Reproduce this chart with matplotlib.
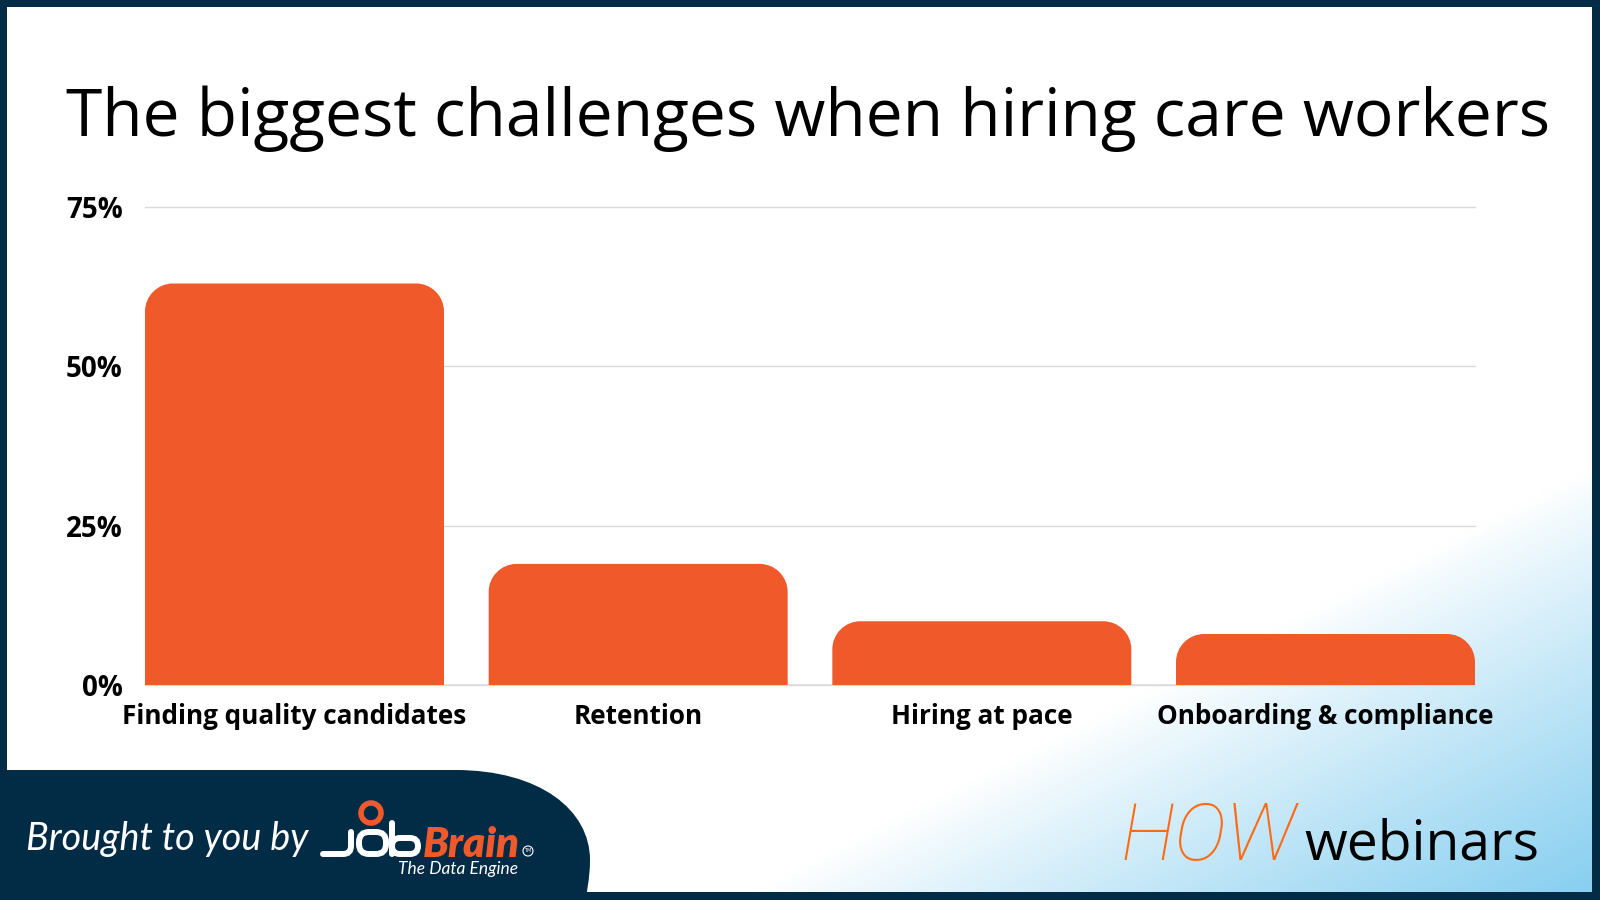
import numpy as np
import matplotlib
matplotlib.use('Agg')
import matplotlib.pyplot as plt
from matplotlib.path import Path
from matplotlib.patches import PathPatch, Rectangle, Circle, FancyBboxPatch

# chart data
categories = ['Finding quality candidates', 'Retention', 'Hiring at pace', 'Onboarding & compliance']
values = [63, 19, 10, 8]
y_ticks = [0, 25, 50, 75]
title = 'The biggest challenges when hiring care workers'

NAVY = '#022B46'
ORANGE = '#F05A2B'
W, H = 1600, 900

fig = plt.figure(figsize=(16, 9), dpi=100)
renderer = fig.canvas.get_renderer()


def fit(txt, width):
    # scale a text so it spans the wanted pixel width
    bb = txt.get_window_extent(renderer)
    txt.set_fontsize(txt.get_fontsize() * width / bb.width)


# background layer in pixel coords
bg = fig.add_axes([0, 0, 1, 1], zorder=0)
bg.add_patch(Rectangle((0, 0), W, H, color=NAVY, zorder=0))

# light blue wash in the bottom right corner
gx, gy = np.meshgrid(np.linspace(7, 1592, 400), np.linspace(7, 892, 225))
t = np.clip((gx * 0.452 + gy * 0.893 - 1140) / (1517 - 1140), 0, 1)[..., None] ** 0.9
blue = np.array([0x88, 0xCF, 0xF0]) / 255
img = (1 - t) + blue * t
bg.imshow(img, extent=(7, 1592, 892, 7), aspect='auto', interpolation='bilinear', zorder=1)

# dark panel bottom left
panel = Path([(0, 770), (455, 770), (540, 770), (590, 810), (590, 860), (590, 880), (586, 893),
              (586, 900), (0, 900), (0, 770)],
             [Path.MOVETO, Path.LINETO, Path.CURVE4, Path.CURVE4, Path.CURVE4, Path.CURVE4, Path.CURVE4,
              Path.LINETO, Path.LINETO, Path.CLOSEPOLY])
bg.add_patch(PathPatch(panel, facecolor=NAVY, edgecolor='none', zorder=2))
bg.set_xlim(0, W)
bg.set_ylim(H, 0)
bg.axis('off')

# title
tt = fig.text(66 / W, 1 - 136 / H, title, fontsize=46, family='Open Sans', color='black', va='baseline')
fit(tt, 1488)

# bar chart
ax = fig.add_axes([145 / W, (H - 685) / H, 1330 / W, 478 / H], zorder=2)
ax.patch.set_alpha(0)
x = np.arange(len(categories))
bw = 0.87
bars = ax.bar(x, values, width=bw, color=ORANGE)
ax.set_xlim(-bw / 2, len(categories) - 1 + bw / 2)
ax.set_ylim(0, 75)

# rounded top corners
rx = 28 * (len(categories) - 1 + bw) / 1330
ry = 28 * 75 / 478
k = 0.5523
for b in bars:
    x0 = b.get_x()
    x1 = x0 + b.get_width()
    h = b.get_height()
    b.set_visible(False)
    verts = [(x0, 0), (x0, h - ry),
             (x0, h - ry + k * ry), (x0 + rx - k * rx, h), (x0 + rx, h),
             (x1 - rx, h),
             (x1 - rx + k * rx, h), (x1, h - ry + k * ry), (x1, h - ry),
             (x1, 0), (x0, 0)]
    codes = [Path.MOVETO, Path.LINETO,
             Path.CURVE4, Path.CURVE4, Path.CURVE4,
             Path.LINETO,
             Path.CURVE4, Path.CURVE4, Path.CURVE4,
             Path.LINETO, Path.CLOSEPOLY]
    ax.add_patch(PathPatch(Path(verts, codes), facecolor=ORANGE, edgecolor='none', zorder=2))

ax.set_yticks(y_ticks)
ax.set_yticklabels(['%d%%' % v for v in y_ticks])
ax.set_xticks(x)
ax.set_xticklabels(categories)
ax.yaxis.grid(True, color='#d9d9d9', lw=1)
for l in ax.get_ygridlines():
    l.set_clip_on(False)
ax.set_axisbelow(True)
ax.axhline(0, color='#9a9a9a', lw=1, zorder=1)
for s in ax.spines.values():
    s.set_visible(False)
ax.tick_params(axis='both', length=0, labelcolor='black')
ax.tick_params(axis='y', pad=16, labelsize=20)
ax.tick_params(axis='x', pad=13, labelsize=18.8)
for lab in ax.get_xticklabels() + ax.get_yticklabels():
    lab.set_family('Open Sans')
    lab.set_fontweight('bold')

# footer left: brought to you by JobBrain
bt = fig.text(26 / W, 1 - 850 / H, 'Brought to you by', color='white', family='Lato',
              style='italic', fontsize=22, va='baseline')
fit(bt, 282)

lw = 4.3
J = Path([(323, 854), (343, 854), (351, 854), (351, 846), (351, 832)],
         [Path.MOVETO, Path.LINETO, Path.CURVE3, Path.CURVE3, Path.LINETO])
bg.add_patch(PathPatch(J, facecolor='none', edgecolor='white', lw=lw, capstyle='round', zorder=3))
bg.add_patch(FancyBboxPatch((359, 832), 27, 22, boxstyle='round,pad=0,rounding_size=10',
                            facecolor='none', edgecolor='white', lw=lw, zorder=3))
bg.plot([392, 392], [823, 854], color='white', lw=lw, solid_capstyle='round', zorder=3)
bg.add_patch(FancyBboxPatch((392, 838), 26, 16, boxstyle='round,pad=0,rounding_size=8',
                            facecolor='none', edgecolor='white', lw=lw, zorder=3))
bg.add_patch(Circle((371, 813), 10, facecolor='none', edgecolor=ORANGE, lw=4, zorder=3))

br = fig.text(423 / W, 1 - 857 / H, 'Brain', color=ORANGE, family='Lato', style='italic',
              weight='heavy', fontsize=24, va='baseline')
fit(br, 97)
bg.add_patch(Circle((528, 851), 5, facecolor='none', edgecolor='white', lw=0.8, zorder=3))
bg.text(528, 851, 'TM', color='white', fontsize=3.5, ha='center', va='center', zorder=3)
de = fig.text(398 / W, 1 - 874 / H, 'The Data Engine', color='white', family='Lato',
              style='italic', fontsize=10, va='baseline')
fit(de, 120)

# footer right: HOW webinars
hw = fig.text(1120 / W, 1 - 860 / H, 'HOW', color='#FF6A13', family='Roboto', style='italic',
              weight='light', fontsize=44, va='baseline')
fit(hw, 176)
wb = fig.text(1304 / W, 1 - 860 / H, 'webinars', color='black', family='Open Sans',
              fontsize=40, va='baseline')
fit(wb, 234)

fig.savefig('out.png', dpi=100)
